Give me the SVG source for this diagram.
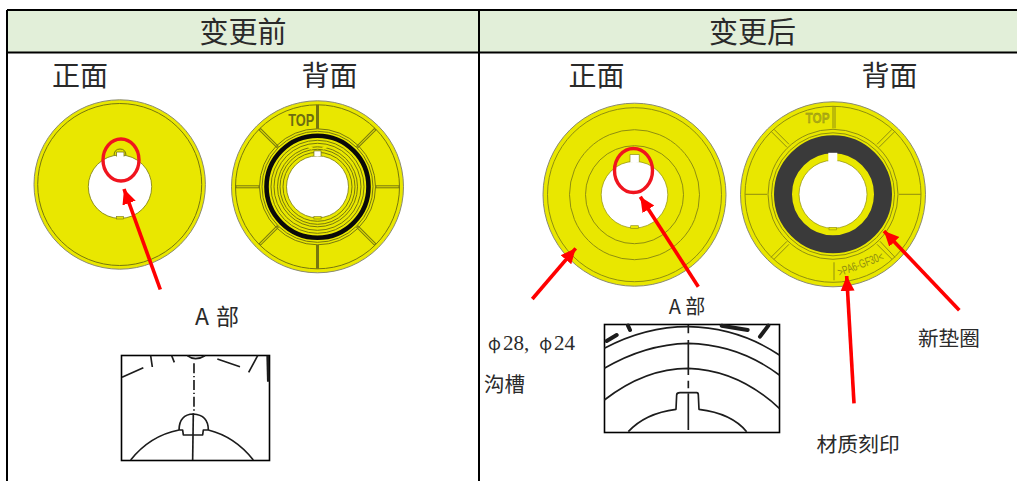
<svg xmlns="http://www.w3.org/2000/svg" width="1017" height="481" viewBox="0 0 1017 481">
<style>
.t{font-family:"Noto Sans CJK SC","Noto Sans CJK JP",sans-serif;fill:#2a2a2a}
.s{font-family:"Liberation Serif","Noto Sans CJK SC",serif;fill:#2a2a2a}
.p{font-family:"Noto Sans CJK SC",sans-serif;font-size:17px}
.disc{fill:#e9e700;stroke:#8a8a70;stroke-width:1}
.ring{fill:none;stroke:#77770f;stroke-width:1}
.ringL{fill:none;stroke:#8f8e10;stroke-width:1}
.hole{fill:#fff;stroke:#77770f;stroke-width:.8}
.spoke{stroke:#77770f;stroke-width:3}
.spokeIn{stroke:#e9e700;stroke-width:1}
.arrow{stroke:#ff0000;stroke-width:3.6;fill:none;marker-end:url(#ah)}
.red{fill:none;stroke:#f0141e;stroke-width:3.4}
.ink{fill:none;stroke:#1c1c1c;stroke-width:5;stroke-linejoin:round}
.frame{fill:#fff;stroke:#000;stroke-width:1.6}
</style>
<defs>
<marker id="ah" markerUnits="userSpaceOnUse" markerWidth="17" markerHeight="16" refX="15" refY="8" orient="auto">
<path d="M0,1 L15,8 L0,15 Z" fill="#ff0000"/>
</marker>
</defs>

<g id="table">
<rect x="7" y="10" width="1012" height="42" fill="#e2efd9"/>
<path d="M7,10 H1017 M7,52.5 H1017 M7,10 V481 M479,10 V481" fill="none" stroke="#000" stroke-width="2"/>
<text class="t" x="243" y="42.5" font-size="29" text-anchor="middle">变更前</text>
<text class="t" x="752.5" y="42.5" font-size="29" text-anchor="middle">变更后</text>
</g>

<g id="before-front">
<text class="t" x="80" y="85.5" font-size="28" text-anchor="middle">正面</text>
<ellipse class="disc" cx="119.7" cy="184.5" rx="85.7" ry="84.7"/>
<ellipse class="ring" cx="119.7" cy="184.5" rx="82" ry="81"/>
<path class="ring" d="M114,156 Q114,149 120,149 Q126,149 126,156"/>
<circle cx="120" cy="186.7" r="31.7" fill="#fff" stroke="#77770f" stroke-width=".8"/>
<path d="M116.5,156.5 V152 H124 V156.5" fill="#fff" stroke="#77770f" stroke-width=".8"/>
<rect x="116.5" y="216.5" width="7" height="2.5" fill="#e9e700" stroke="#77770f" stroke-width=".6"/>
</g>

<g id="before-back">
<text class="t" x="329.5" y="85.5" font-size="28" text-anchor="middle">背面</text>
<circle class="disc" cx="317.5" cy="186.8" r="86"/>
<circle class="ring" cx="317.5" cy="186.8" r="82"/>
<g transform="translate(317.5 186.8)">
<line class="spoke" x1="0" y1="-82" x2="0" y2="-58"/>
<line class="spoke" transform="rotate(180)" x1="0" y1="-82" x2="0" y2="-58"/>
<line class="spoke" transform="rotate(90)" x1="0" y1="-82" x2="0" y2="-58"/>
<line class="spoke" transform="rotate(270)" x1="0" y1="-82" x2="0" y2="-58"/>
<line class="spoke" transform="rotate(45)" x1="0" y1="-82" x2="0" y2="-56"/>
<line class="spoke" transform="rotate(135)" x1="0" y1="-82" x2="0" y2="-56"/>
<line class="spoke" transform="rotate(225)" x1="0" y1="-82" x2="0" y2="-56"/>
<line class="spoke" transform="rotate(315)" x1="0" y1="-82" x2="0" y2="-56"/>
<line class="spokeIn" transform="rotate(45)" x1="0" y1="-81" x2="0" y2="-57"/>
<line class="spokeIn" transform="rotate(135)" x1="0" y1="-81" x2="0" y2="-57"/>
<line class="spokeIn" transform="rotate(225)" x1="0" y1="-81" x2="0" y2="-57"/>
<line class="spokeIn" transform="rotate(315)" x1="0" y1="-81" x2="0" y2="-57"/>
<line class="spokeIn" transform="rotate(90)" x1="0" y1="-81" x2="0" y2="-59"/>
<line class="spokeIn" transform="rotate(270)" x1="0" y1="-81" x2="0" y2="-59"/>
<circle class="ring" r="58"/>
<circle class="ring" r="55.5"/>
<circle r="51" fill="none" stroke="#0a0a0a" stroke-width="4.6"/>
<circle class="ring" r="46.5"/>
<circle class="ring" r="43.5"/>
<circle class="ring" r="40"/>
<circle class="ring" r="37.5"/>
<circle class="ring" r="34.5"/>
<circle class="hole" r="31"/>
<path d="M-3.6,-30.8 V-36 H3.6 V-30.8" fill="#fff" stroke="#77770f" stroke-width=".8"/>
<path d="M-10,-41 L-5,-38 M10,-41 L5,-38" stroke="#e9e700" stroke-width="2.5"/>
<rect x="-3.6" y="29.8" width="7.2" height="2.4" fill="#e9e700" stroke="#77770f" stroke-width=".6"/>
</g>
<text x="301.3" y="125.5" font-family="Liberation Sans,sans-serif" font-weight="bold" font-size="16.5" fill="#6c6c12" text-anchor="middle" textLength="26" lengthAdjust="spacingAndGlyphs">TOP</text>
</g>

<g id="after-front">
<text class="t" x="596.5" y="85.5" font-size="28" text-anchor="middle">正面</text>
<circle class="disc" cx="634.5" cy="194.7" r="91.5"/>
<circle class="ringL" cx="634.5" cy="194.7" r="87"/>
<circle class="ringL" cx="634.5" cy="194.7" r="65"/>
<circle class="ringL" cx="634.5" cy="194.7" r="49"/>
<circle cx="634.5" cy="194.7" r="33.3" fill="#fff" stroke="#8f8e10" stroke-width=".7"/>
<rect x="630" y="154.5" width="9.3" height="8" fill="#fff"/>
<path d="M630,162 V154.5 H639.3 V162" fill="none" stroke="#8f8e10" stroke-width=".7"/>
<rect x="630.7" y="225.7" width="7.7" height="2.6" fill="#e9e700" stroke="#8f8e10" stroke-width=".6"/>
</g>

<g id="after-back">
<text class="t" x="889.5" y="85.5" font-size="28" text-anchor="middle">背面</text>
<circle class="disc" cx="833" cy="194.3" r="92.5"/>
<circle class="ringL" cx="833" cy="194.3" r="88"/>
<g transform="translate(833 194.3)">
<g class="ringL">
<path d="M0,-88 V-66 M2,-88 V-66"/>
<path d="M-88,0 H-66 M66,0 H88"/>
<path d="M-62,-63 L-46,-47 M-59,-65 L-44,-50"/>
<path d="M62,-63 L46,-47 M59,-65 L44,-50"/>
<path d="M-62,63 L-46,47 M-59,65 L-44,50"/>
<path d="M62,63 L47,47 M59,65 L44,50"/>
<path d="M1,68 V86"/>
</g>
<circle class="ringL" r="65"/>
<circle class="ringL" r="61.5"/>
<circle r="50" fill="none" stroke="#3a3a3a" stroke-width="18"/>
<circle r="34" fill="#fff" stroke="#8f8e10" stroke-width=".7"/>
<rect x="-4.7" y="-41.5" width="9" height="9" fill="#fff"/>
<rect x="-4" y="33" width="7.5" height="2.6" fill="#e9e700" stroke="#8f8e10" stroke-width=".6"/>
</g>
<text x="817.5" y="123" font-family="Liberation Sans,sans-serif" font-weight="bold" font-size="15" fill="#b0af14" stroke="#8f8e10" stroke-width=".3" text-anchor="middle" textLength="24" lengthAdjust="spacingAndGlyphs">TOP</text>
<text transform="translate(862 268) rotate(-21)" font-family="Liberation Sans,sans-serif" font-size="12" fill="#8f8e10" text-anchor="middle" textLength="48" lengthAdjust="spacingAndGlyphs">&gt;PA6-GF30&lt;</text>
</g>

<g id="connectors">
<ellipse class="red" cx="121" cy="160" rx="18" ry="21"/>
<ellipse class="red" cx="633.5" cy="170.5" rx="19" ry="22"/>
<line class="arrow" x1="160.3" y1="289.5" x2="124" y2="189"/>
<line class="arrow" x1="698.3" y1="286.7" x2="640.3" y2="196.7"/>
<line class="arrow" x1="532.3" y1="299" x2="575.7" y2="248.3"/>
<line class="arrow" x1="959.3" y1="310.3" x2="884" y2="231"/>
<line class="arrow" x1="854" y1="403.3" x2="846.7" y2="276"/>
</g>

<g id="inset-before">
<rect class="frame" x="121.5" y="355.5" width="148" height="105"/>
<g transform="translate(110 345) scale(.3333)">
<path class="ink" d="M36,97 L100,68 M122,32 L127,66 M185,32 L193,52 M232,32 Q255,50 285,32 M322,42 L390,65 M443,32 L416,82"/>
<path class="ink" style="stroke-width:8" d="M473,32 L475,110"/>
<path class="ink" stroke-dasharray="30 8 4 8" d="M252,55 L252,200"/>
<path class="ink" d="M250,205 L248,345"/>
<path class="ink" d="M207,255 Q208,208 250,207 Q295,210 295,255 M62,345 Q120,272 207,255 L218,255 L220,270 L278,270 L280,255 L295,255 Q375,275 430,345"/>
</g>
</g>

<g id="inset-after">
<rect class="frame" x="604.5" y="324.5" width="175" height="108"/>
<g transform="translate(595 315) scale(.3333)">
<path class="ink" d="M28,100 Q150,35 280,35 Q430,38 553,120 M28,160 Q150,88 280,85 Q430,88 553,180 M28,255 Q150,160 280,160 Q430,165 553,280"/>
<path class="ink" style="stroke-width:12;stroke-linecap:round" d="M35,78 L65,60 M99,32 L105,45 M380,32 L458,45 M520,32 L495,65"/>
<path class="ink" d="M280,30 V55 M280,75 V180 M280,197 V220 M280,235 V345"/>
<path class="ink" d="M100,350 Q150,295 243,283 L245,240 Q245,233 255,233 L305,233 Q310,233 310,240 L312,283 Q410,295 455,350"/>
</g>
</g>

<g id="labels">
<text class="t" x="217" y="325" font-size="23" text-anchor="middle" word-spacing="2">A 部</text>
<text class="t" x="687" y="314" font-size="20" text-anchor="middle">A 部</text>
<text class="s" x="488" y="349.5" font-size="21"><tspan class="p">φ</tspan><tspan dx="2">28,</tspan><tspan class="p" dx="10">φ</tspan><tspan dx="2">24</tspan></text>
<text class="t" x="484" y="392" font-size="20.5">沟槽</text>
<text class="t" x="918" y="346" font-size="20.6">新垫圈</text>
<text class="t" x="816.5" y="452" font-size="20.8">材质刻印</text>
</g>
</svg>
